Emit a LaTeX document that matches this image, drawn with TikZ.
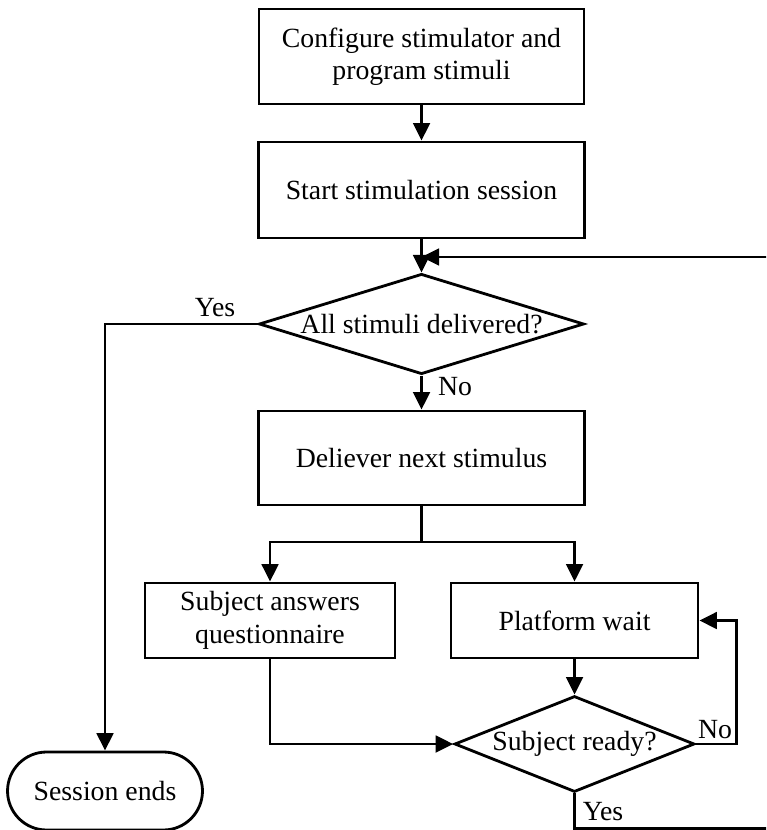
\documentclass[tikz,border=0pt]{standalone}
\usepackage{fontspec}
\setmainfont{Liberation Serif}
\usepackage{tikz}
\usetikzlibrary{shapes, arrows.meta, positioning, calc}
\tikzset{
  procbox/.style={draw, line width=1.6pt, rectangle, align=center, inner sep=0pt, font=\fontsize{15.8pt}{18.5pt}\selectfont},
  decision/.style={draw, line width=1.6pt, diamond, inner sep=0pt, shape aspect=3, font=\fontsize{15.8pt}{18.5pt}\selectfont},
  termbox/.style={draw, line width=1.6pt, rectangle, rounded corners=0.78cm, inner sep=0pt, font=\fontsize{15.8pt}{18.5pt}\selectfont},
  flowline/.style={line width=1.6pt},
  flowarrow/.style={line width=1.6pt, -{Triangle[length=10pt, width=9.5pt]}},
  branchlbl/.style={inner sep=0pt, font=\fontsize{15.8pt}{18.5pt}\selectfont}
}

\begin{document}
\begin{tikzpicture}[x=0.02cm, y=-0.02cm]
  \useasboundingbox (0,0) rectangle (766,830);
  \clip (0,0) rectangle (766,830);

  \node[procbox, minimum width=6.5cm, minimum height=1.9cm] (conf) at (421.5,56.5) {Configure stimulator and\\program stimuli};
  \node[procbox, minimum width=6.52cm, minimum height=1.92cm] (start) at (421.5,190) {Start stimulation session};
  \node[decision, minimum width=6.5cm, minimum height=1.9cm] (alldel) at (421.5,324) {All stimuli delivered?};
  \node[procbox, minimum width=6.52cm, minimum height=1.88cm] (deliver) at (421.5,458) {Deliever next stimulus};
  \node[procbox, minimum width=5cm, minimum height=1.5cm] (answers) at (270,620.5) {Subject answers\\questionnaire};
  \node[procbox, minimum width=4.94cm, minimum height=1.5cm] (wait) at (574.5,620.5) {Platform wait};
  \node[decision, minimum width=4.76cm, minimum height=1.92cm] (ready) at (574.5,744) {Subject ready?};
  \node[termbox, minimum width=3.9cm, minimum height=1.56cm] (ends) at (105,791) {Session ends};

  \coordinate (merge) at (421.5,257);
  \coordinate (split) at (421.5,542);

  \draw[flowarrow] (conf) -- (start);
  \draw[flowarrow] (start) -- (alldel);
  \draw[flowarrow] (alldel.west) -| (ends.north);
  \draw[flowarrow] (alldel) -- (deliver);
  \draw[flowline] (deliver.south) -- (split);
  \draw[flowarrow] (split) -| (answers.north);
  \draw[flowarrow] (split) -| (wait.north);
  \draw[flowarrow] (wait) -- (ready);
  \draw[flowarrow] (answers.south) |- (ready.west);
  \draw[flowarrow] (ready.east) -- ++(41,0) |- (wait.east);
  \draw[flowarrow] (ready.south) -- ++(0,35) -| (772,257) -- (merge);

  \node[branchlbl] (yes1) at (215,308) {Yes};
  \node[branchlbl] (no1) at (455,387) {No};
  \node[branchlbl] (no2) at (715,730) {No};
  \node[branchlbl] (yes2) at (603,812) {Yes};
\end{tikzpicture}
\end{document}
